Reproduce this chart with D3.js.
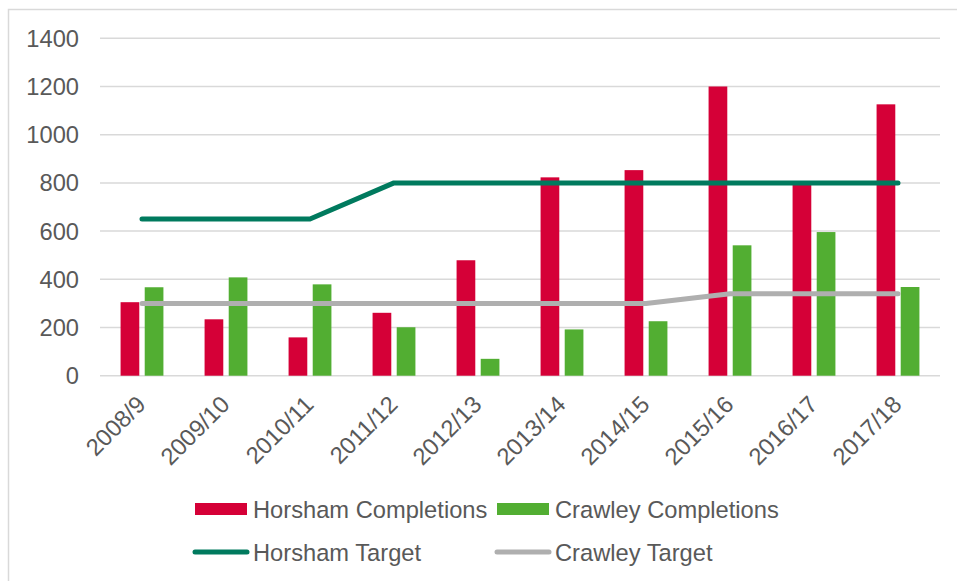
<!DOCTYPE html>
<html>
<head>
<meta charset="utf-8">
<script src="https://cdn.jsdelivr.net/npm/d3@7"></script>
<style>
  body { margin: 0; background: #fff; }
  svg { display: block; font-family: "Liberation Sans", Arial, sans-serif; }
</style>
</head>
<body>
<svg id="chart" width="957" height="581"></svg>
<script>
// data
var years = ['2008/9', '2009/10', '2010/11', '2011/12', '2012/13', '2013/14', '2014/15', '2015/16', '2016/17', '2017/18']
var horshamCompletions = [305, 234, 159, 261, 479, 823, 853, 1200, 795, 1126]
var crawleyCompletions = [367, 408, 379, 201, 70, 192, 226, 541, 596, 368]
var horshamTarget = [650, 650, 650, 800, 800, 800, 800, 800, 800, 800]
var crawleyTarget = [300, 300, 300, 300, 300, 300, 300, 340, 340, 340]
var yTicks = [0, 200, 400, 600, 800, 1000, 1200, 1400]

var colors = {
    horsham: '#d50037',
    crawley: '#52ae32',
    hTarget: '#007a5e',
    cTarget: '#afafaf',
    grid: '#d9d9d9',
    text: '#595959'
}

var svg = d3.select('#chart')
var margin = { left: 100, right: 17, top: 38, bottom: 205 }
var W = +svg.attr('width'), H = +svg.attr('height')
var fontSize = 23.7

// outer frame
svg.append('rect')
    .attr('x', 8.5).attr('y', 9.5)
    .attr('width', 1000).attr('height', 1000)
    .attr('fill', 'none')
    .attr('stroke', colors.grid)
    .attr('stroke-width', 1.5)

var x0 = d3.scaleBand()
    .domain(years)
    .range([margin.left, W - margin.right])
    .paddingInner(0.49)
    .paddingOuter(0.245)
var x1 = d3.scaleBand()
    .domain(['h', 'c'])
    .range([0, x0.bandwidth()])
    .paddingInner(0.225)
var y = d3.scaleLinear()
    .domain([0, 1400])
    .range([375.7, 38.3])

var g = {
    grid: svg.append('g'),
    bars: svg.append('g'),
    lines: svg.append('g'),
    axis: svg.append('g'),
    legend: svg.append('g')
}

// grid
g.grid.selectAll('line')
    .data(yTicks)
    .join('line')
    .attr('x1', margin.left)
    .attr('x2', W - margin.right)
    .attr('y1', d => y(d))
    .attr('y2', d => y(d))
    .attr('stroke', colors.grid)
    .attr('stroke-width', 1.5)

// y labels
g.axis.selectAll('text.y')
    .data(yTicks)
    .join('text')
    .attr('class', 'y')
    .attr('x', 79)
    .attr('y', d => y(d) + 8.5)
    .attr('text-anchor', 'end')
    .attr('font-size', fontSize)
    .attr('fill', colors.text)
    .text(d => d)

// x labels
g.axis.selectAll('text.x')
    .data(years)
    .join('text')
    .attr('class', 'x')
    .attr('text-anchor', 'end')
    .attr('font-size', fontSize)
    .attr('fill', colors.text)
    .attr('transform', d => {
        let cx = x0(d) + x0.bandwidth() / 2
        return `translate(${cx + 5},${406}) rotate(-45)`
    })
    .text(d => d)

// bars
var bars = [
    { key: 'h', values: horshamCompletions, color: colors.horsham },
    { key: 'c', values: crawleyCompletions, color: colors.crawley }
]
bars.forEach(s => {
    g.bars.append('g')
        .selectAll('rect')
        .data(s.values)
        .join('rect')
        .attr('x', (d, i) => x0(years[i]) + x1(s.key))
        .attr('width', x1.bandwidth())
        .attr('y', d => y(d))
        .attr('height', d => y(0) - y(d))
        .attr('fill', s.color)
})

// target lines
var line = d3.line()
    .x((d, i) => x0(years[i]) + x0.bandwidth() / 2)
    .y(d => y(d))
var lines = [
    { values: crawleyTarget, color: colors.cTarget },
    { values: horshamTarget, color: colors.hTarget }
]
lines.forEach(s => {
    g.lines.append('path')
        .attr('d', line(s.values))
        .attr('fill', 'none')
        .attr('stroke', s.color)
        .attr('stroke-width', 5)
        .attr('stroke-linecap', 'round')
        .attr('stroke-linejoin', 'round')
})

// legend
var legendItems = [
    { name: 'Horsham Completions', type: 'bar', color: colors.horsham, x: 195, y: 509 },
    { name: 'Crawley Completions', type: 'bar', color: colors.crawley, x: 497, y: 509 },
    { name: 'Horsham Target', type: 'line', color: colors.hTarget, x: 195, y: 552 },
    { name: 'Crawley Target', type: 'line', color: colors.cTarget, x: 497, y: 552 }
]
legendItems.forEach(d => {
    let lg = g.legend.append('g').attr('transform', `translate(${d.x},${d.y})`)
    if (d.type == 'bar') {
        lg.append('rect')
            .attr('x', 0).attr('y', -6)
            .attr('width', 52).attr('height', 12)
            .attr('fill', d.color)
    } else {
        lg.append('line')
            .attr('x1', 0).attr('x2', 52)
            .attr('stroke', d.color)
            .attr('stroke-width', 5)
            .attr('stroke-linecap', 'round')
    }
    lg.append('text')
        .attr('x', 58)
        .attr('y', 8.5)
        .attr('font-size', fontSize)
        .attr('fill', colors.text)
        .text(d.name)
})
</script>
</body>
</html>
